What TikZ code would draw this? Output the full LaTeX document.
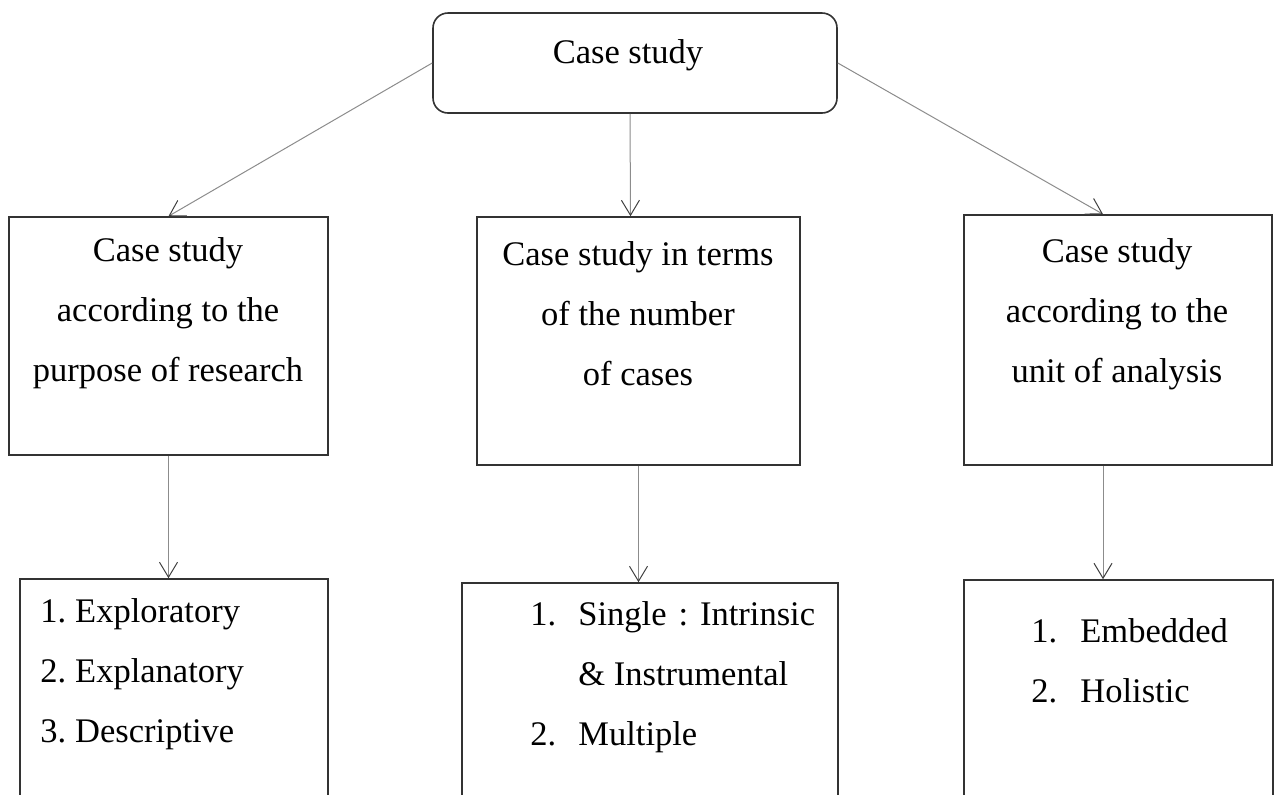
\documentclass[tikz,border=0pt]{standalone}
\usepackage{fontspec}
\setmainfont{Liberation Serif}
\usepackage{tikz}
\usetikzlibrary{shapes,arrows.meta,positioning}
\tikzstyle{arrow} = [draw=black!45, line width=0.5pt, -{Straight Barb[length=7.5pt,width=9pt,color=black!75]}]

\begin{document}
\begin{tikzpicture}[x=0.5pt, y=-0.5pt, font=\fontsize{17.25}{30}\selectfont]
    \tikzstyle{block} = [rectangle, draw=black!80, line width=0.8pt, fill=white]
    \tikzstyle{txt} = [inner sep=0pt, align=center]
    \tikzstyle{list} = [inner sep=0pt, align=left, anchor=north west]
    \useasboundingbox (0,0) rectangle (1277,794);

    % Top
    \node [block, rounded corners=7.5pt, minimum width=202pt, minimum height=50pt] (top) at (635,63) {};
    \node [txt, anchor=base] (toptxt) at (628,63) {Case study};

    % Middle row
    \node [block, minimum width=159.5pt, minimum height=119pt] (purpose) at (168.5,336) {};
    \node [txt, anchor=north] (purposetxt) at (168,237.4) {Case study\\according to the\\purpose of research};
    \node [block, minimum width=161.5pt, minimum height=124pt] (number) at (638.5,341) {};
    \node [txt, anchor=north] (numbertxt) at (638,241.4) {Case study in terms\\of the number\\of cases};
    \node [block, minimum width=154pt, minimum height=125pt] (unit) at (1118,340) {};
    \node [txt, anchor=north] (unittxt) at (1117,238.4) {Case study\\according to the\\unit of analysis};

    % Bottom row
    \node [block, minimum width=154pt, minimum height=130pt] (explist) at (174,709) {};
    \node [list] (explisttxt) at (40,598.4) {1.\hspace{4.5pt}Exploratory\\2.\hspace{4.5pt}Explanatory\\3.\hspace{4.5pt}Descriptive};
    \node [block, minimum width=188pt, minimum height=128pt] (numlist) at (650,711) {};
    \node [list] (numlisttxt) at (530,601.4) {\makebox[24pt][l]{1.}Single\hspace{6pt}:\hspace{6pt}Intrinsic\\\hspace*{24pt}\& Instrumental\\\makebox[24pt][l]{2.}Multiple};
    \node [block, minimum width=154.5pt, minimum height=130pt] (unitlist) at (1118.5,710) {};
    \node [list] (unitlisttxt) at (1031,618.4) {\makebox[24.5pt][l]{1.}Embedded\\\makebox[24.5pt][l]{2.}Holistic};

    % Arrows
    \draw [arrow] (top.west) -- (purpose.north);
    \draw [arrow] ([xshift=-2.5pt]top.south) -- ([xshift=-4pt]number.north);
    \draw [arrow] (top.east) -- ([xshift=-7.5pt]unit.north);
    \draw [arrow] (purpose.south) -- (explist.north -| purpose.south);
    \draw [arrow] (number.south) -- (numlist.north -| number.south);
    \draw [arrow] ([xshift=-7.5pt]unit.south) -- ([xshift=-7.75pt]unitlist.north);

\end{tikzpicture}
\end{document}
